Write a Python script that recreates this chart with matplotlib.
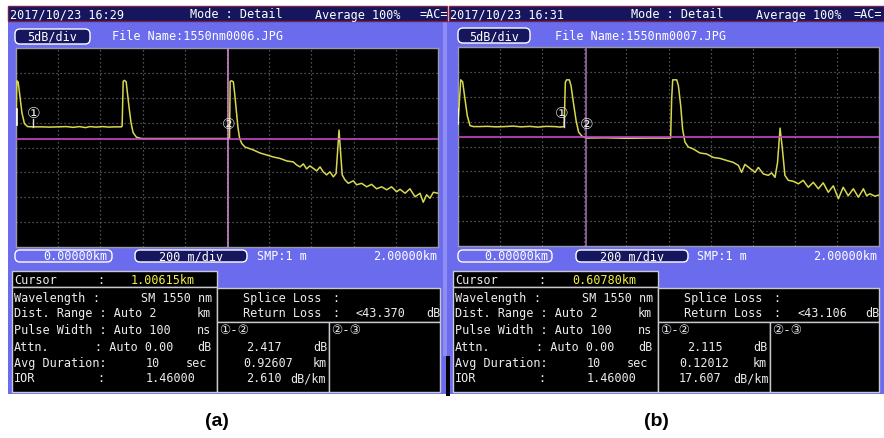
import matplotlib
matplotlib.use('Agg')
import matplotlib.pyplot as plt
from matplotlib.patches import Rectangle, FancyBboxPatch

# ---------------- data ----------------
header_times = ['2017/10/23 16:29', '2017/10/23 16:31']
file_names = ['File Name:1550nm0006.JPG', 'File Name:1550nm0007.JPG']
cursor_text = ['1.00615km', '0.60780km']
cursor_km = [1.00615, 0.60780]
cursor_level = [21.8, 22.0]
return_loss = ['<43.370', '<43.106']
seg_loss = ['2.417', '2.115']
seg_len = ['0.92607', '0.12012']
seg_att = ['2.610', '17.607']
panel_labels = ['(a)', '(b)']

dist_a = [0.000, 0.004, 0.010, 0.018, 0.028, 0.040, 0.055, 0.08, 0.12, 0.16, 0.20, 0.24, 0.27,
          0.30, 0.33, 0.35, 0.38, 0.41, 0.44, 0.47, 0.500, 0.503, 0.508, 0.514, 0.522, 0.528,
          0.536, 0.545, 0.555, 0.570, 0.585, 0.60, 0.70, 0.80, 0.90, 1.00, 1.012, 1.015,
          1.022, 1.030, 1.036, 1.044, 1.052, 1.060, 1.070, 1.085, 1.125, 1.156, 1.188, 1.219,
          1.251, 1.283, 1.314, 1.330, 1.346, 1.362, 1.377, 1.393, 1.409, 1.425, 1.441, 1.456,
          1.472, 1.488, 1.504, 1.517, 1.524, 1.531, 1.537, 1.546, 1.559, 1.575, 1.599, 1.614,
          1.638, 1.662, 1.685, 1.709, 1.733, 1.757, 1.780, 1.804, 1.820, 1.844, 1.867, 1.891,
          1.915, 1.930, 1.946, 1.962, 1.978, 2.000]
level_a = [24.5, 33.4, 33.2, 30.5, 27.0, 24.8, 24.2, 24.15, 24.15, 24.1, 24.15, 24.2, 24.05,
           24.2, 24.0, 24.2, 24.1, 24.2, 24.1, 24.15, 24.15, 24.3, 33.3, 33.5, 33.2, 31.0,
           28.0, 25.0, 23.0, 22.1, 21.9, 21.8, 21.8, 21.8, 21.8, 21.8, 21.9, 33.3,
           33.4, 33.2, 31.0, 27.5, 24.0, 21.8, 20.8, 20.1, 19.5, 18.9, 18.5, 18.1,
           17.8, 17.3, 17.1, 16.5, 16.1, 16.7, 15.7, 16.3, 15.8, 15.3, 16.1, 15.1,
           14.5, 15.1, 14.1, 14.8, 19.1, 23.5, 19.8, 14.5, 13.5, 12.8, 13.3, 12.5,
           12.8, 12.1, 12.6, 11.7, 12.1, 11.5, 12.1, 11.1, 11.6, 10.8, 11.7, 10.1,
           10.8, 9.0, 10.5, 9.8, 11.0, 10.8]

dist_b = [0.000, 0.013, 0.022, 0.033, 0.044, 0.057, 0.073, 0.10, 0.14, 0.18, 0.22, 0.26, 0.30,
          0.34, 0.38, 0.42, 0.46, 0.485, 0.504, 0.510, 0.516, 0.529, 0.537, 0.548, 0.561,
          0.573, 0.588, 0.611, 0.70, 0.80, 0.90, 1.010, 1.015, 1.020, 1.039, 1.047, 1.058,
          1.067, 1.078, 1.094, 1.118, 1.149, 1.181, 1.213, 1.245, 1.276, 1.308, 1.332, 1.347,
          1.363, 1.387, 1.411, 1.427, 1.450, 1.474, 1.490, 1.506, 1.518, 1.530, 1.541, 1.553,
          1.569, 1.593, 1.617, 1.640, 1.664, 1.688, 1.712, 1.735, 1.759, 1.783, 1.807, 1.830,
          1.854, 1.878, 1.902, 1.926, 1.941, 1.957, 1.981, 2.002]
level_b = [24.5, 33.4, 33.0, 29.6, 26.2, 24.2, 24.0, 24.0, 24.05, 23.95, 24.0, 24.1, 23.95,
           24.05, 23.9, 24.05, 24.0, 23.9, 24.0, 32.9, 33.4, 33.4, 32.2, 28.9, 25.2,
           22.9, 22.1, 21.7, 21.75, 21.65, 21.7, 21.7, 29.6, 33.4, 33.4, 32.2, 28.2,
           23.5, 20.9, 19.9, 19.5, 18.7, 18.5, 17.8, 17.6, 17.2, 16.8, 16.2, 14.8,
           16.4, 15.6, 14.8, 15.8, 14.5, 14.2, 14.7, 13.8, 16.8, 23.7, 19.5, 14.2,
           13.2, 13.0, 12.5, 13.2, 11.8, 12.8, 11.5, 12.7, 10.8, 12.1, 9.5, 11.8,
           10.1, 11.5, 9.8, 11.5, 10.1, 10.5, 10.0, 10.3]

# marker positions (km, dB) for labels 1 and 2, and marker tick lines
m1_pos = [(0.082, 27.1), (0.493, 26.9)]
m1_tick = [(0.080, 25.8, 24.1), (0.504, 25.9, 24.0)]
m2_pos = [(1.008, 24.8), (0.613, 24.7)]
start_tick = [(0.003, 27.8, 24.5), (0.0015, 27.5, 24.5)]

traces = [(dist_a, level_a), (dist_b, level_b)]

# ---------------- layout ----------------
W, H = 884, 439
fig = plt.figure(figsize=(W / 100, H / 100), dpi=100)
fig.patch.set_facecolor('white')
bg = fig.add_axes([0, 0, 1, 1])
bg.set_xlim(0, W)
bg.set_ylim(H, 0)
bg.axis('off')

BLUE = '#6b6bee'
NAVY = '#16165e'
BOXTXT = '#ececec'
EDGE = '#c8c8d0'
MONO = ['DejaVu Sans Mono', 'DejaVu Sans', 'Noto Sans CJK JP']
FS = 8.5


def rect(x0, y0, x1, y1, fc, ec='none', lw=1.0, z=1):
    bg.add_patch(Rectangle((x0, y0), x1 - x0, y1 - y0, facecolor=fc, edgecolor=ec,
                           linewidth=lw, zorder=z))


def capsule(x0, y0, x1, y1, fc, ec='white'):
    bg.add_patch(FancyBboxPatch((x0, y0), x1 - x0, y1 - y0,
                                boxstyle='round,pad=0,rounding_size=5',
                                facecolor=fc, edgecolor=ec, linewidth=1.0, zorder=3))


def txt(x, y, s, color='white', ha='left', fs=FS, z=5):
    bg.text(x, y, s, color=color, ha=ha, va='center', fontsize=fs, family=MONO, zorder=z)


# blue body
rect(8, 22, W, 395, BLUE)
rect(443, 22, 447, 357, '#8e8ef2', z=1.5)
rect(446, 357, 450, 397, 'black', z=2)

panels = [
    dict(dx=0, head=(8, 447), plot=(16, 49, 438, 248), cap5=(15, 30, 90, 45), fn=112,
         c1=(15, 112, 107), c2=(135, 247), smp=257, end=437, ac=420,
         lbox=(12, 217), rbox=217, split=329, rend=440,
         vals=(246, 243, 246), unit=313, unit2=290, lab=217),
    dict(dx=441, head=(449, 884), plot=(458, 48, 879, 247), cap5=(458, 29, 530, 44), fn=555,
         c1=(458, 552, 548), c2=(576, 688), smp=697, end=877, ac=854,
         lbox=(453, 658), rbox=658, split=770, rend=879,
         vals=(687, 679, 679), unit=753, unit2=733, lab=656),
]

for i, p in enumerate(panels):
    dx = p['dx']
    # header bar
    rect(p['head'][0], 7, p['head'][1], 22, NAVY, ec='#7a2040', lw=1.0, z=2)
    txt(p['head'][0] + 1.5, 15, header_times[i], z=6)
    txt(190 + dx, 15, 'Mode : Detail', z=6)
    txt(315 + dx, 15, 'Average 100%', z=6)
    txt(p['ac'], 15, '=AC=', z=6)

    # second row
    x0, y0, x1, y1 = p['cap5']
    capsule(x0, y0, x1, y1, NAVY)
    txt((x0 + x1) / 2, (y0 + y1) / 2, '5dB/div', ha='center')
    txt(p['fn'], 37, file_names[i])

    # scale row
    a, b, tr = p['c1']
    capsule(a, 251, b, 263, BLUE)
    txt(tr, 257, '0.00000km', ha='right')
    a, b = p['c2']
    capsule(a, 251, b, 263, NAVY)
    txt((a + b) / 2, 257, '200 m/div', ha='center')
    txt(p['smp'], 257, 'SMP:1 m')
    txt(p['end'], 257, '2.00000km', ha='right')

    # info boxes
    lx0, lx1 = p['lbox']
    rect(lx0, 272, lx1, 288, 'black', ec=EDGE, z=2)
    rect(lx0, 288, lx1, 393, 'black', ec=EDGE, z=2)
    rect(p['rbox'], 289, p['rend'], 323, 'black', ec=EDGE, z=2)
    rect(p['rbox'], 323, p['split'], 393, 'black', ec=EDGE, z=2)
    rect(p['split'], 323, p['rend'], 393, 'black', ec=EDGE, z=2)

    L = lx0 + 2
    txt(L, 281, 'Cursor', BOXTXT)
    txt(L + 83, 281, ':', BOXTXT)
    txt(L + 117, 281, cursor_text[i], '#f4f040')
    txt(L, 299, 'Wavelength', BOXTXT)
    txt(L + 78, 299, ':', BOXTXT)
    txt(L + 127, 299, 'SM 1550 nm', BOXTXT)
    txt(L, 314, 'Dist. Range : Auto 2', BOXTXT)
    txt(L + 183, 314, 'km', BOXTXT)
    txt(L, 331, 'Pulse Width : Auto 100', BOXTXT)
    txt(L + 183, 331, 'ns', BOXTXT)
    txt(L, 348, 'Attn.', BOXTXT)
    txt(L + 81, 348, ': Auto 0.00', BOXTXT)
    txt(L + 183, 348, 'dB', BOXTXT)
    txt(L, 364, 'Avg Duration:', BOXTXT)
    txt(L + 132, 364, '10', BOXTXT)
    txt(L + 172, 364, 'sec', BOXTXT)
    txt(L, 379, 'IOR', BOXTXT)
    txt(L + 83, 379, ':', BOXTXT)
    txt(L + 132, 379, '1.46000', BOXTXT)

    R = p['rbox']
    txt(R + 26, 299, 'Splice Loss', BOXTXT)
    txt(R + 115, 299, ':', BOXTXT)
    txt(R + 26, 314, 'Return Loss', BOXTXT)
    txt(R + 115, 314, ':', BOXTXT)
    txt(R + 139, 314, return_loss[i], BOXTXT)
    txt(p['rend'] - 14, 314, 'dB', BOXTXT)
    txt(R + 2, 331, '①-②', BOXTXT, fs=9)
    txt(p['split'] + 2, 331, '②-③', BOXTXT, fs=9)
    v1, v2, v3 = p['vals']
    txt(v1, 348, seg_loss[i], BOXTXT)
    txt(p['unit'], 348, 'dB', BOXTXT)
    txt(v2, 364, seg_len[i], BOXTXT)
    txt(p['unit'], 364, 'km', BOXTXT)
    txt(v3, 379, seg_att[i], BOXTXT)
    txt(p['unit2'], 379, 'dB/km', BOXTXT)

    # panel label
    bg.text(p['lab'], 422, panel_labels[i], ha='center', va='center', fontsize=14,
            fontweight='bold', family='Liberation Sans', color='black')

    # ---------------- trace plot ----------------
    px0, py0, px1, py1 = p['plot']
    ax = fig.add_axes([px0 / W, 1 - py1 / H, (px1 - px0) / W, (py1 - py0) / H])
    ax.set_zorder(3)
    ax.set_facecolor('black')
    ax.set_xlim(0, 2.0)
    ax.set_ylim(0, 40)
    ax.set_xticks([0.2 * k for k in range(1, 10)])
    ax.set_yticks([5 * k for k in range(1, 8)])
    ax.tick_params(left=False, bottom=False, labelleft=False, labelbottom=False)
    ax.grid(True, color='#6a6a6a', linestyle=(0, (1, 2.2)), linewidth=0.9)
    for s in ax.spines.values():
        s.set_color('#9a9aa8')
        s.set_linewidth(1.0)

    d, lv = traces[i]
    ax.plot(d, lv, color='#d8d850', linewidth=1.1, zorder=3)
    ax.axhline(cursor_level[i], color='#c548c8', linewidth=1.2, zorder=4)
    ax.axvline(cursor_km[i], color='#d890dc' if i == 0 else '#b070c4', linewidth=1.1, zorder=4)

    sx, sy0, sy1 = start_tick[i]
    ax.plot([sx, sx], [sy0, sy1], color='white', linewidth=1.2, zorder=5)
    tx, ty0, ty1 = m1_tick[i]
    ax.plot([tx, tx], [ty0, ty1], color='#e0e0e0', linewidth=1.0, zorder=5)
    for (mx, my), lab in ((m1_pos[i], '①'), (m2_pos[i], '②')):
        ax.text(mx, my, lab, color='#e8e8e8', ha='center', va='center', fontsize=11,
                family=['DejaVu Sans', 'Noto Sans CJK JP'], zorder=6)

fig.savefig('out.png', dpi=100, facecolor='white')
